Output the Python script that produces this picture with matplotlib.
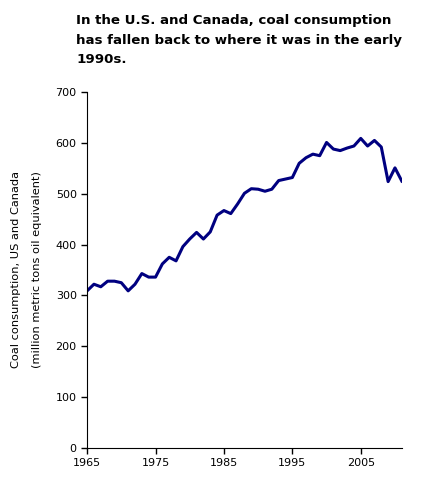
import matplotlib.pyplot as plt

# %% Data: coal consumption, US and Canada (million metric tons oil equivalent)
years = list(range(1965, 2012))
coal = [309, 322, 317, 328, 328, 325, 309, 322, 343, 336,
        336, 362, 375, 368, 396, 411, 424, 411, 425, 458,
        467, 461, 480, 501, 510, 509, 505, 509, 526, 529,
        532, 560, 571, 578, 575, 601, 588, 585, 590, 594,
        609, 594, 605, 592, 524, 551, 525]

xticks = [1965, 1975, 1985, 1995, 2005]
yticks = [0, 100, 200, 300, 400, 500, 600, 700]

title = ("In the U.S. and Canada, coal consumption\n"
         "has fallen back to where it was in the early\n"
         "1990s.")

# %% Plot
fig = plt.figure(figsize=(4.27, 4.8), dpi=100)
ax = fig.add_axes([0.204, 0.067, 0.737, 0.741])

ax.plot(years, coal, color='#000080', linewidth=2.2)

ax.set_xlim(1965, 2011)
ax.set_ylim(0, 700)
ax.set_xticks(xticks)
ax.set_yticks(yticks)
ax.tick_params(labelsize=8, length=4, width=1, direction='out')
ax.spines['top'].set_visible(False)
ax.spines['right'].set_visible(False)

ax.set_ylabel("Coal consumption, US and Canada\n(million metric tons oil equivalent)",
              fontsize=8.2, labelpad=10, linespacing=2.3)

fig.text(0.178, 0.97, title, fontsize=9.65, fontweight='bold',
         ha='left', va='top', linespacing=1.62)

fig.savefig('out.png', dpi=100)
